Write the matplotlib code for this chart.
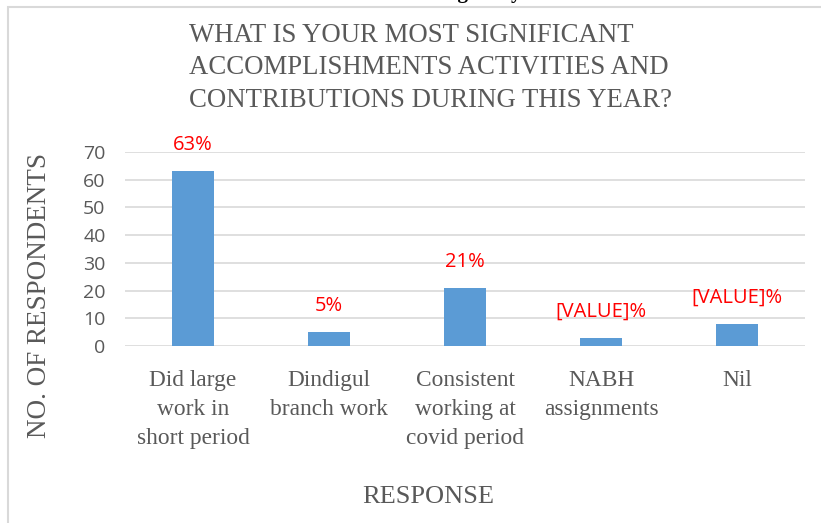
import matplotlib.pyplot as plt
from matplotlib.patches import Rectangle
import numpy as np

categories = ["Did large\nwork in\nshort period", "Dindigul\nbranch work",
              "Consistent\nworking at\ncovid period", "NABH\nassignments", "Nil"]
values = [63, 5, 21, 3, 8]
labels = ["63%", "5%", "21%", "[VALUE]%", "[VALUE]%"]
yticks = [0, 10, 20, 30, 40, 50, 60, 70]

grey = "#595959"
serif = "Liberation Serif"
sans = "Open Sans"

fig = plt.figure(figsize=(8.21, 5.23), dpi=100)

# outer chart frame (cut off on the right and bottom in the original)
fig.patches.append(Rectangle((8 / 821, -0.2), 1.2, 1.2 - 7 / 523, transform=fig.transFigure,
                             fill=False, edgecolor="#d9d9d9", linewidth=1.5))

# caption from the page above, mostly cut off at the top edge
fig.text(0.507, 1.003, "contributions during this year", ha="center", va="baseline",
         fontsize=15, fontweight="bold", family=serif, color="black")

ax = fig.add_axes([125 / 821, 1 - 346 / 523, 680 / 821, 194 / 523])
x = np.arange(len(categories))
ax.bar(x, values, width=0.31, color="#5b9bd5", zorder=3)
ax.set_xlim(-0.5, len(categories) - 0.5)
ax.set_ylim(0, 70)
ax.set_yticks(yticks)
ax.yaxis.grid(True, color="#d9d9d9", linewidth=1.2, zorder=0)
for s in ax.spines.values():
    s.set_visible(False)
ax.tick_params(axis="both", length=0)
ax.tick_params(axis="y", labelsize=14, labelcolor=grey, pad=14)
for t in ax.get_yticklabels():
    t.set_family(sans)
ax.set_xticks(x)
ax.set_xticklabels(categories, family=serif, fontsize=16.8, color=grey, linespacing=1.5)
ax.tick_params(axis="x", pad=17)

for xi, v, lab in zip(x, values, labels):
    ax.annotate(lab, (xi, v), xytext=(0, 26), textcoords="offset pixels",
                ha="center", va="center", color="red", fontsize=14.5, family=sans)

fig.text(430 / 821, 1 - 68 / 523,
         "WHAT IS YOUR MOST SIGNIFICANT\nACCOMPLISHMENTS ACTIVITIES AND\nCONTRIBUTIONS DURING THIS YEAR?",
         ha="center", va="center", multialignment="left", fontsize=19.3, family=serif,
         color=grey, linespacing=1.4)
fig.text(40 / 821, 1 - 296 / 523, "NO. OF RESPONDENTS", rotation=90, ha="center", va="center",
         fontsize=19.5, family=serif, color=grey)
fig.text(428 / 821, 1 - 497 / 523, "RESPONSE", ha="center", va="center",
         fontsize=19, family=serif, color=grey)

fig.savefig("out.png", dpi=100, facecolor="white")
